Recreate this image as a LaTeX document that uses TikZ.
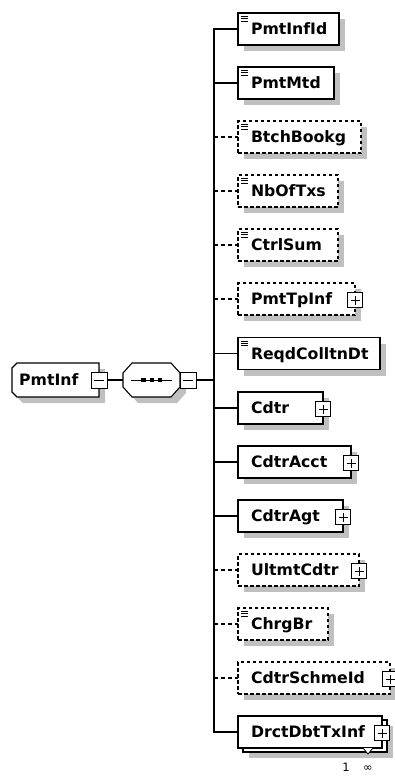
\documentclass[tikz,border=0pt]{standalone}
\usepackage{fontspec}
\setmainfont{DejaVu Sans}
\usetikzlibrary{shadows,backgrounds}
\definecolor{shadowgray}{RGB}{192,192,192}
\tikzset{
  elemfont/.style={font=\bfseries\fontsize{15.7pt}{16pt}\selectfont},
  elem/.style={draw, line width=1.1pt, fill=white, rectangle, minimum height=32pt,
    inner xsep=13pt, inner ysep=0pt, outer sep=0pt, text height=11.45pt, text depth=0pt,
    align=left, anchor=west, elemfont},
  withshadow/.style={general shadow={fill=shadowgray, shadow xshift=6pt, shadow yshift=-6pt}},
  solidbox/.style={},
  dashbox/.style={dash pattern=on 3.5pt off 2.5pt},
  solidconn/.style={line width=1.4pt},
  dashconn/.style={line width=1.4pt, dash pattern=on 4pt off 3pt},
  expander/.style={draw, line width=0.9pt, fill=white, minimum size=15pt, inner sep=0pt, outer sep=0pt},
  sign/.style={line width=0.9pt},
  icon/.style={line width=1pt},
  outline/.style={line width=1.1pt, fill=white},
  occurs/.style={font=\fontsize{11.5pt}{12pt}\selectfont, anchor=base, inner sep=0pt},
}
\newcommand\xelem[5]{%
  \pgfmathsetmacro\tw{#3-238-26}%
  \node[elem,withshadow,#4box,text width=\tw pt] (#1) at (238,#2) {#5};%
  \draw[#4conn] (bustop |- #1.west) -- (#1.west);%
}
\newcommand\simpleicon[1]{%
  \foreach \dy in {3.5,5.8,8.1} {\draw[icon] ([shift={(3pt,-\dy pt)}]#1.north west) -- ++(7,0);}%
}
\newcommand\complexicon[1]{%
  \node[expander] (#1plus) at ([yshift=-1pt]#1.east) {};%
  \draw[sign] ([xshift=-4.5pt]#1plus.center) -- ([xshift=4.5pt]#1plus.center)
              ([yshift=-4.5pt]#1plus.center) -- ([yshift=4.5pt]#1plus.center);%
}
\begin{document}
\begin{tikzpicture}[x=1pt,y=-1pt]
\fill[white] (0,0) rectangle (395,776);
\useasboundingbox (0,0) rectangle (395,776);
\coordinate (bustop) at (214,29);
\coordinate (busbot) at (214,732);
\coordinate (bus) at (214,380);

% root element PmtInf
\fill[shadowgray] (23,369) -- (105,369) -- (105,403) -- (23,403) -- (18,398) -- (18,374) -- cycle;
\draw[outline] (17,363) -- (99,363) -- (99,397) -- (17,397) -- (12,392) -- (12,368) -- cycle;
\node[elemfont, anchor=west, inner sep=0pt, text height=11.45pt, text depth=0pt] (pmtinf) at (19,380) {PmtInf};
\node[expander, minimum size=16pt] (pmtminus) at (99,380) {};
\draw[sign] ([xshift=-5pt]pmtminus.center) -- ([xshift=5pt]pmtminus.center);

% sequence compositor
\fill[shadowgray] (138,369) -- (177,369) -- (186,379) -- (186,393) -- (177,403) -- (138,403) -- (129,393) -- (129,379) -- cycle;
\draw[outline] (132,363) -- (171,363) -- (180,373) -- (180,387) -- (171,397) -- (132,397) -- (123,387) -- (123,373) -- cycle;
\node[minimum width=57pt, minimum height=34pt, inner sep=0pt, outer sep=0pt] (seq) at (151.5,380) {};
\draw[line width=1pt] (131,380) -- (172,380);
\foreach \dx in {143.3,151.7,160} {\fill ([xshift=\dx pt]0,380) ++(-2.2,-2.2) rectangle ++(4.4,4.4);}
\node[expander, minimum size=16pt] (seqminus) at (188,380) {};
\draw[sign] ([xshift=-5pt]seqminus.center) -- ([xshift=5pt]seqminus.center);

\draw[solidconn] (pmtminus.east) -- (seq.west);
\draw[solidconn] (seqminus.east) -- (bus);
\draw[solidconn, line cap=rect] (bustop) -- (busbot);

% children
\xelem{PmtInfId}{29}{339}{solid}{PmtInfId}
\xelem{PmtMtd}{83}{334}{solid}{PmtMtd}
\xelem{BtchBookg}{137}{361}{dash}{BtchBookg}
\xelem{NbOfTxs}{191}{338}{dash}{NbOfTxs}
\xelem{CtrlSum}{245}{338}{dash}{CtrlSum}
\xelem{PmtTpInf}{299}{355}{dash}{PmtTpInf}
\xelem{ReqdColltnDt}{353.5}{380}{solid}{ReqdColltnDt}
\xelem{Cdtr}{408}{323}{solid}{Cdtr}
\xelem{CdtrAcct}{462}{351}{solid}{CdtrAcct}
\xelem{CdtrAgt}{516}{343}{solid}{CdtrAgt}
\xelem{UltmtCdtr}{570}{359}{dash}{UltmtCdtr}
\xelem{ChrgBr}{624}{328}{dash}{ChrgBr}
\xelem{CdtrSchmeId}{678}{390}{dash}{CdtrSchmeId}

% repeated element
\node[elem, withshadow, text width=118pt] (drctback) at (243,736) {};
\node[elem, text width=118pt] (DrctDbtTxInf) at (238,732) {DrctDbtTxInf};
\draw[solidconn] (bustop |- DrctDbtTxInf.west) -- (DrctDbtTxInf.west);
\draw[line width=0.8pt, fill=white] ([xshift=-19pt]DrctDbtTxInf.south east) -- ++(5,6) -- ++(5,-6);
\node[occurs] (nmin) at (346,771.5) {1};
\node[occurs] (nmax) at (368,771.5) {∞};

% type icons
\foreach \n in {PmtInfId,PmtMtd,BtchBookg,NbOfTxs,CtrlSum,ReqdColltnDt,ChrgBr} {\simpleicon{\n}}
\foreach \n in {PmtTpInf,Cdtr,CdtrAcct,CdtrAgt,UltmtCdtr,CdtrSchmeId,DrctDbtTxInf} {\complexicon{\n}}
\end{tikzpicture}
\end{document}
